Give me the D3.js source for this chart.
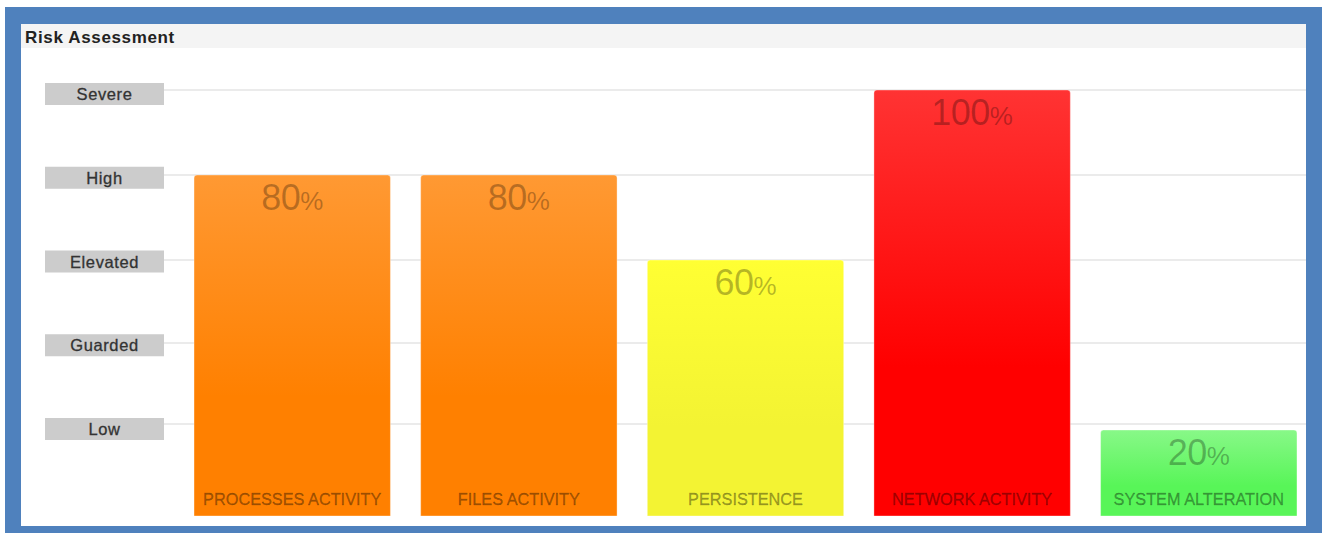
<!DOCTYPE html>
<html>
<head>
<meta charset="utf-8">
<script src="https://cdn.jsdelivr.net/npm/d3@7"></script>
<style>
  html, body { margin: 0; padding: 0; background: #fff; }
  svg { display: block; font-family: "Liberation Sans", Arial, sans-serif; }
</style>
</head>
<body>
<svg id="chart" width="1325" height="534"></svg>
<script>
// Risk categories and their scores (percent)
const categories = ["PROCESSES ACTIVITY", "FILES ACTIVITY", "PERSISTENCE", "NETWORK ACTIVITY", "SYSTEM ALTERATION"];
const scores = [80, 80, 60, 100, 20];

// Risk level labels on the left and the score where each guide line sits
const levelLabels = ["Severe", "High", "Elevated", "Guarded", "Low"];
const levelValues = [100, 80, 60, 40.5, 21.4];

// Bar colours: light top, saturated base
const barTop = ["#ff9933", "#ff9933", "#ffff33", "#ff3333", "#88f888"];
const barBase = ["#ff8000", "#ff8000", "#f3f333", "#ff0000", "#58f558"];

const svg = d3.select("#chart");

// Blue frame and inner panel
svg.append("rect").attr("x", 5).attr("y", 7).attr("width", 1317).attr("height", 526).attr("fill", "#4f81bd");
svg.append("rect").attr("x", 21).attr("y", 24).attr("width", 1285).attr("height", 502).attr("fill", "#ffffff");

// Title bar
svg.append("rect").attr("x", 21).attr("y", 24).attr("width", 1285).attr("height", 24).attr("fill", "#f4f4f4");
svg.append("text").attr("x", 25).attr("y", 42.5)
  .attr("font-size", 17).attr("font-weight", "bold").attr("letter-spacing", 0.65).attr("fill", "#222")
  .text("Risk Assessment");

const y = d3.scaleLinear().domain([0, 100]).range([515, 90]);
const x = d3.scaleBand().domain(categories).range([178.9, 1312.1])
  .paddingInner(0.1334).paddingOuter(0.0667);
// Level boxes are stacked evenly down the left side
const levelY = d3.scalePoint().domain(levelLabels).range([94, 429]);

// Guide lines
svg.append("g").selectAll("line").data(levelValues).join("line")
  .attr("x1", 164).attr("x2", 1306)
  .attr("y1", d => y(d)).attr("y2", d => y(d))
  .attr("stroke", "#ebebeb").attr("stroke-width", 2);

// Level boxes
const lv = svg.append("g").selectAll("g").data(levelLabels).join("g")
  .attr("transform", d => `translate(0,${levelY(d)})`);
lv.append("rect").attr("x", 45).attr("y", -11).attr("width", 119).attr("height", 22).attr("fill", "#cccccc");
lv.append("text").attr("x", 104.5).attr("y", 6).attr("text-anchor", "middle")
  .attr("font-size", 16.5).attr("letter-spacing", 0.6).attr("fill", "#333")
  .attr("stroke", "#333").attr("stroke-width", 0.3)
  .text(d => d);

// Gradients per bar
const defs = svg.append("defs");
categories.forEach((c, i) => {
  const g = defs.append("linearGradient").attr("id", "grad" + i)
    .attr("x1", 0).attr("y1", 0).attr("x2", 0).attr("y2", 1);
  g.append("stop").attr("offset", "0%").attr("stop-color", barTop[i]);
  g.append("stop").attr("offset", "65%").attr("stop-color", barBase[i]);
  g.append("stop").attr("offset", "100%").attr("stop-color", barBase[i]);
});

// Bar path with rounded top corners
function barPath(x0, y0, w, h, r) {
  return `M${x0},${y0 + h} L${x0},${y0 + r} Q${x0},${y0} ${x0 + r},${y0} ` +
         `L${x0 + w - r},${y0} Q${x0 + w},${y0} ${x0 + w},${y0 + r} L${x0 + w},${y0 + h} Z`;
}

const bars = svg.append("g").selectAll("g").data(categories).join("g");
bars.append("path")
  .attr("d", (d, i) => barPath(x(d), y(scores[i]), x.bandwidth(), y(0) - y(scores[i]) + 1, 3))
  .attr("fill", (d, i) => `url(#grad${i})`)
  .attr("stroke", "rgba(255,255,255,0.35)").attr("stroke-width", 1);

// Score label
const val = bars.append("text")
  .attr("x", d => x(d) + x.bandwidth() / 2)
  .attr("y", (d, i) => y(scores[i]) + 35)
  .attr("text-anchor", "middle").attr("fill", "#000").attr("fill-opacity", 0.28);
val.append("tspan").attr("font-size", 36).attr("letter-spacing", -0.5).text((d, i) => scores[i]);
val.append("tspan").attr("font-size", 26).text("%");

// Category label
bars.append("text")
  .attr("x", d => x(d) + x.bandwidth() / 2)
  .attr("y", 505)
  .attr("text-anchor", "middle").attr("font-size", 16.3)
  .attr("fill", "#000").attr("fill-opacity", 0.36)
  .attr("stroke", "#000").attr("stroke-opacity", 0.36).attr("stroke-width", 0.35)
  .text(d => d);
</script>
</body>
</html>
